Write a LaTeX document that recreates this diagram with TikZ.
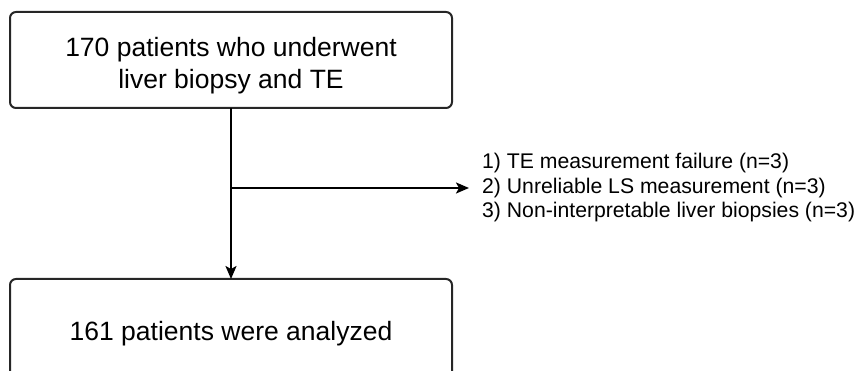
\documentclass[tikz,border=0pt]{standalone}
\usepackage{fontspec}
\setmainfont{Liberation Sans}
\usetikzlibrary{arrows.meta}
\begin{document}
\begin{tikzpicture}[x=1pt,y=-1pt,
  box/.style={draw=black!85,line width=2pt,rounded corners=6pt},
  conn/.style={draw=black,line width=2pt,-{Stealth[length=13pt,width=11pt,inset=3pt]}},
  big/.style={font=\fontsize{26.5}{32}\selectfont,align=center,inner sep=0pt},
  small/.style={font=\fontsize{21.2}{24.5}\selectfont,align=left,inner sep=0pt,anchor=west}]
\useasboundingbox (0,0) rectangle (860,371);
\draw[box] (10,12) rectangle (452,108);
\node[big] (top) at (231,66) {170 patients who underwent\\liver biopsy and TE};
\coordinate (topb) at (231,108);
\draw[box] (10,279) rectangle (452,390);
\node[big] (bot) at (231,334) {161 patients were analyzed};
\coordinate (botb) at (231,279);
\coordinate (branch) at (231,188);
\node[small] (excl) at (482,188) {1) TE measurement failure (n=3)\\2) Unreliable LS measurement (n=3)\\3) Non-interpretable liver biopsies (n=3)};
\draw[conn] (topb) -- (botb);
\draw[conn] (branch) -- (469,188);
\end{tikzpicture}
\end{document}
